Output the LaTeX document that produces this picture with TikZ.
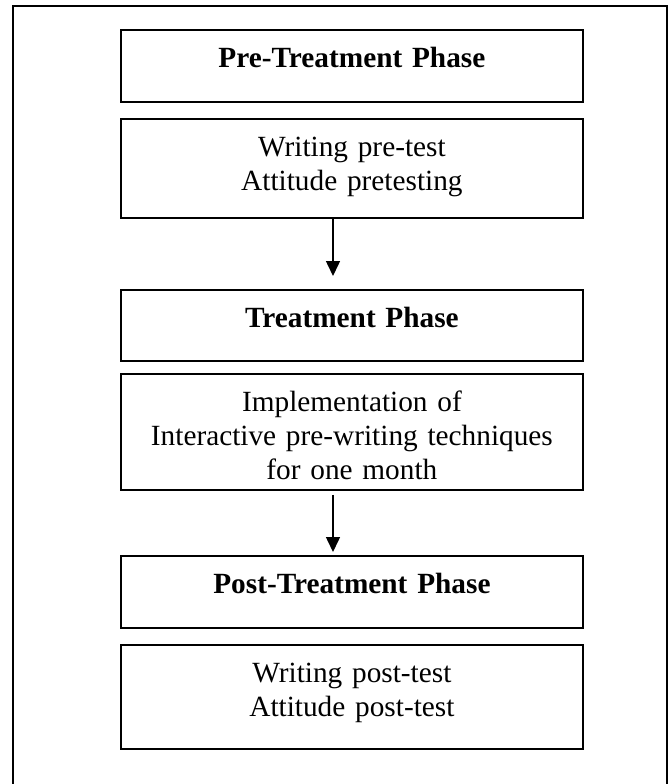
\documentclass[tikz,border=0pt]{standalone}
\usepackage{fontspec}
\setmainfont{Liberation Serif}
\usetikzlibrary{arrows.meta}
\begin{document}
\begin{tikzpicture}[x=1pt,y=-1pt,
  stagebox/.style={draw=black,line width=1.8pt,inner sep=0pt,text width=462pt,
    align=center,anchor=north west,font=\fontsize{29.3}{34}\selectfont,text height=38pt},
  headbox/.style={stagebox,font=\fontsize{29.3}{34}\selectfont\bfseries},
  arr/.style={line width=1.5pt,-{Triangle[width=14pt,length=15pt]}}]
\useasboundingbox (0,0) rectangle (671,784);
\draw[line width=2pt] (13,790) -- (13,6) -- (667,6) -- (667,790);
\node[headbox,text depth=34pt] (b1) at (120,29) {Pre-Treatment Phase};
\node[stagebox,text depth=61pt] (b2) at (120,118) {Writing pre-test\\Attitude pretesting};
\node[headbox,text depth=33pt] (b3) at (120,289) {Treatment Phase};
\node[stagebox,text depth=78pt] (b4) at (120,373) {Implementation of\\Interactive pre-writing techniques\\for one month};
\node[headbox,text depth=34pt] (b5) at (120,555) {Post-Treatment Phase};
\node[stagebox,text depth=66pt] (b6) at (120,644) {Writing post-test\\Attitude post-test};
\coordinate (ax) at (333,0);
\draw[arr,shorten >=13pt] (b2.south -| ax) -- (b3.north -| ax);
\draw[arr,shorten <=4pt,shorten >=3pt] (b4.south -| ax) -- (b5.north -| ax);
\end{tikzpicture}
\end{document}
